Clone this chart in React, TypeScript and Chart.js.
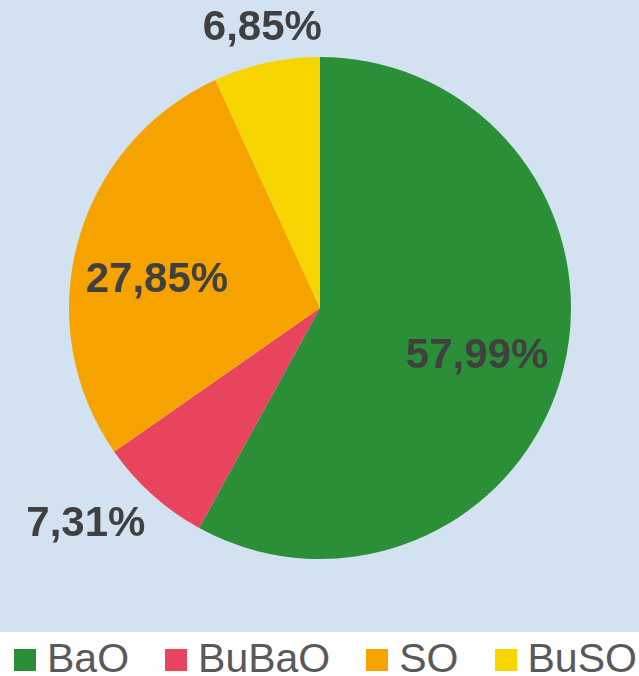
import React, { useEffect, useRef } from "react";
import { Chart, registerables } from "chart.js";

Chart.register(...registerables);

const categories = ["BaO", "BuBaO", "SO", "BuSO"];
const values = [57.99, 7.31, 27.85, 6.85];
const valueLabels = ["57,99%", "7,31%", "27,85%", "6,85%"];
const colors = ["#2a8f37", "#e8445e", "#f6a300", "#f8d400"];
// label placement styling: radius factor and angle offset (degrees)
const labelRadius = [0.654, 1.271, 0.659, 1.139];
const labelAngleOffset = [2.6, 5.3, -5.5, 0.7];

const BG = "#d3e2f1";

const bgPlugin = {
  id: "bgPlugin",
  beforeDraw(chart: any) {
    const { ctx, width, height } = chart;
    ctx.save();
    ctx.fillStyle = BG;
    ctx.fillRect(0, 0, width, height);
    ctx.restore();
  },
};

const labelPlugin = {
  id: "labelPlugin",
  afterDatasetsDraw(chart: any) {
    const { ctx } = chart;
    const meta = chart.getDatasetMeta(0);
    ctx.save();
    ctx.font = "bold 42px 'Liberation Sans', Arial, sans-serif";
    ctx.fillStyle = "#404040";
    ctx.textAlign = "center";
    ctx.textBaseline = "middle";
    meta.data.forEach((arc: any, i: number) => {
      const p = arc.getProps(["x", "y", "startAngle", "endAngle", "outerRadius"], true);
      const mid = (p.startAngle + p.endAngle) / 2 + (labelAngleOffset[i] * Math.PI) / 180;
      const r = p.outerRadius * labelRadius[i];
      const x = p.x + Math.cos(mid) * r;
      const y = p.y + Math.sin(mid) * r;
      ctx.fillText(valueLabels[i], x, y);
    });
    ctx.restore();
  },
};

export default function App() {
  const ref = useRef<HTMLCanvasElement | null>(null);

  useEffect(() => {
    if (!ref.current) return;
    const chart = new Chart(ref.current, {
      type: "pie",
      data: {
        labels: categories,
        datasets: [
          {
            data: values,
            backgroundColor: colors,
            borderWidth: 0,
          },
        ],
      },
      options: {
        animation: false,
        responsive: false,
        maintainAspectRatio: false,
        layout: { padding: { top: 57, bottom: 73, left: 69, right: 68 } },
        plugins: {
          legend: { display: false },
          tooltip: { enabled: false },
        },
      },
      plugins: [bgPlugin, labelPlugin],
    });
    return () => chart.destroy();
  }, []);

  return (
    <div
      style={{
        position: "fixed",
        left: 0,
        top: 0,
        width: 639,
        height: 676,
        background: "#ffffff",
        overflow: "hidden",
        fontFamily: "'Liberation Sans', Arial, sans-serif",
      }}
    >
      <canvas ref={ref} width={639} height={632} style={{ display: "block", width: 639, height: 632 }} />
      <div
        style={{
          position: "absolute",
          left: 14,
          top: 638,
          height: 44,
          display: "flex",
          alignItems: "center",
        }}
      >
        {categories.map((c, i) => (
          <div
            key={c}
            style={{ display: "flex", alignItems: "center", marginRight: i < categories.length - 1 ? 36 : 0 }}
          >
            <div style={{ width: 22, height: 22, background: colors[i], marginRight: 11 }} />
            <span
              style={{
                fontSize: 41,
                lineHeight: "44px",
                color: "#595959",
                position: "relative",
                top: -2,
                whiteSpace: "nowrap",
              }}
            >
              {c}
            </span>
          </div>
        ))}
      </div>
    </div>
  );
}
